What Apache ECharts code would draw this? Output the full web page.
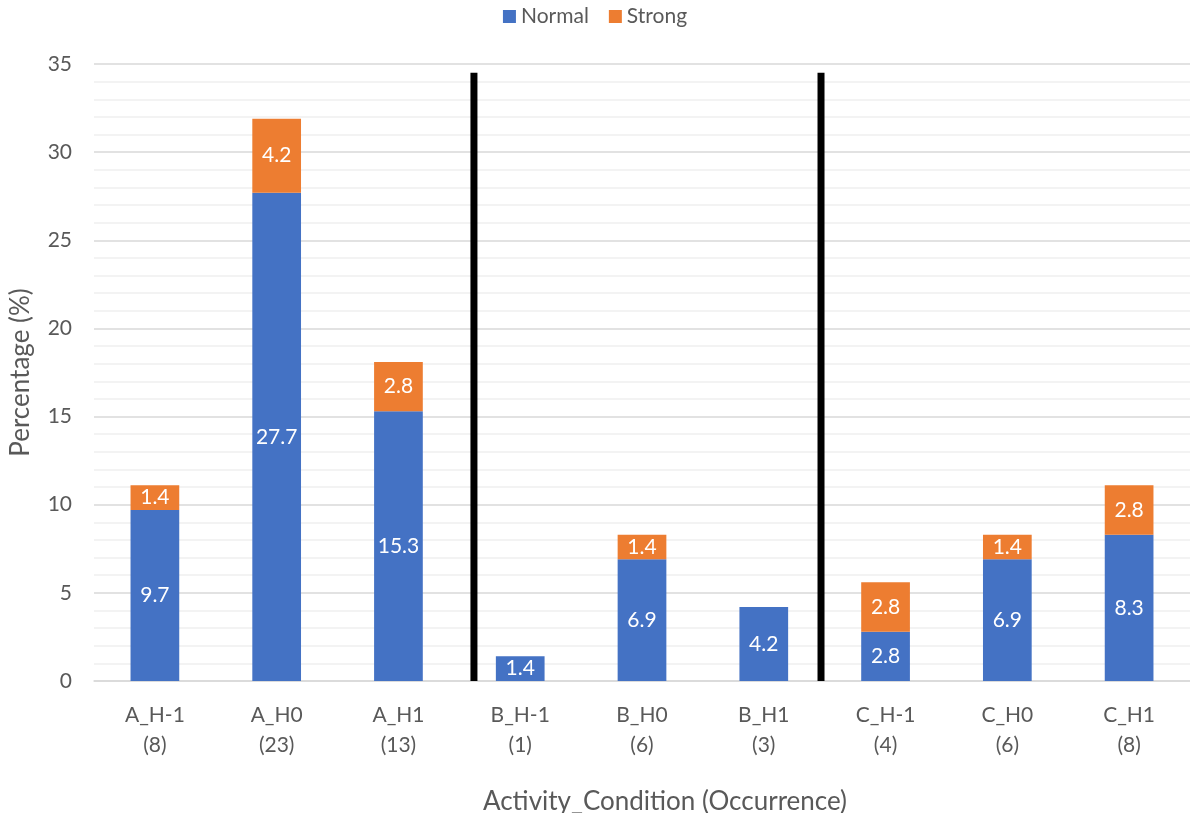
<!DOCTYPE html>
<html>
<head>
<meta charset="utf-8">
<script src="https://cdn.jsdelivr.net/npm/echarts@6/dist/echarts.min.js"></script>
<style>
html,body{margin:0;padding:0;background:#fff;}
#chart{width:1190px;height:813px;}
</style>
</head>
<body>
<div id="chart"></div>
<script>
const categories = ['A_H-1','A_H0','A_H1','B_H-1','B_H0','B_H1','C_H-1','C_H0','C_H1'];
const occurrences = [8, 23, 13, 1, 6, 3, 4, 6, 8];
const normalValues = [9.7, 27.7, 15.3, 1.4, 6.9, 4.2, 2.8, 6.9, 8.3];
const strongValues = [1.4, 4.2, 2.8, 0, 1.4, 0, 2.8, 1.4, 2.8];
const separatorPositions = [3.12, 5.97];
const separatorTop = 34.5;
const yTicks = [0, 5, 10, 15, 20, 25, 30, 35];

const FONT = 'Lato';
const GREY = '#595959';

const chart = echarts.init(document.getElementById('chart'));
const labelFmt = p => (p.value ? Number(p.value).toFixed(1) : '');

const sepSeries = separatorPositions.map((x, i) => ({
  name: 'sep' + i,
  type: 'line',
  xAxisIndex: 1,
  yAxisIndex: 0,
  data: [[x, 0], [x, separatorTop]],
  symbol: 'none',
  silent: true,
  lineStyle: { color: '#000', width: 7, cap: 'butt' },
  z: 5
}));

chart.setOption({
  animation: false,
  textStyle: { fontFamily: FONT },
  legend: {
    top: 1,
    left: 'center',
    data: ['Normal', 'Strong'],
    itemWidth: 13,
    itemHeight: 13,
    itemGap: 20,
    icon: 'rect',
    textStyle: { color: GREY, fontSize: 21, fontFamily: FONT }
  },
  title: {
    text: 'Activity_Condition (Occurrence)',
    left: 660,
    top: 784,
    textAlign: 'center',
    textStyle: { color: GREY, fontSize: 26, fontWeight: 'normal', fontFamily: FONT }
  },
  grid: { left: 90, right: 0, top: 64, bottom: 132, containLabel: false },
  xAxis: [
    {
      type: 'category',
      data: categories.map((c, i) => c + '\n(' + occurrences[i] + ')'),
      axisLine: { lineStyle: { color: '#d9d9d9', width: 1.5 } },
      axisTick: { show: false },
      axisLabel: { color: GREY, fontSize: 21, lineHeight: 30, margin: 19, fontFamily: FONT }
    },
    { type: 'value', min: 0, max: 9, show: false }
  ],
  yAxis: {
    type: 'value',
    min: 0,
    max: 35,
    interval: 5,
    name: 'Percentage (%)',
    nameLocation: 'middle',
    nameGap: 60,
    nameTextStyle: { color: GREY, fontSize: 26, fontFamily: FONT },
    axisLine: { show: false },
    axisTick: { show: false },
    axisLabel: { color: GREY, fontSize: 21, margin: 22, fontFamily: FONT },
    splitLine: { lineStyle: { color: '#d9d9d9', width: 1.5 } },
    minorTick: { show: false, splitNumber: 5 },
    minorSplitLine: { show: true, lineStyle: { color: '#f0f0f0', width: 1.5 } }
  },
  series: [
    {
      name: 'Normal',
      type: 'bar',
      stack: 'total',
      barWidth: '40%',
      data: normalValues,
      itemStyle: { color: '#4472C4' },
      label: { show: true, position: 'inside', color: '#fff', fontSize: 21, fontFamily: FONT, formatter: labelFmt }
    },
    {
      name: 'Strong',
      type: 'bar',
      stack: 'total',
      barWidth: '40%',
      data: strongValues,
      itemStyle: { color: '#ED7D31' },
      label: { show: true, position: 'inside', color: '#fff', fontSize: 21, fontFamily: FONT, formatter: labelFmt }
    },
    ...sepSeries
  ]
});
</script>
</body>
</html>
